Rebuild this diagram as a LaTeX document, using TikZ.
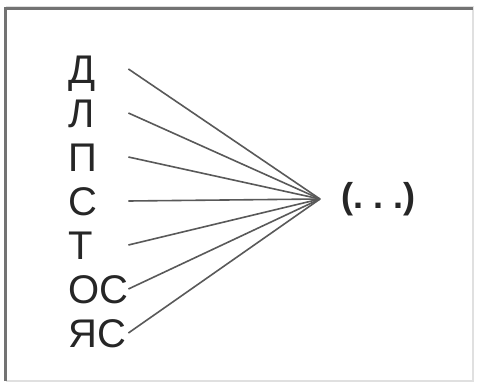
\documentclass[tikz,border=0pt]{standalone}
\usepackage{fontspec}
\setmainfont{Liberation Sans}
\begin{document}
\begin{tikzpicture}[x=1pt,y=-1pt,
  lbl/.style={anchor=west,inner sep=0pt,text width=60pt,align=left,
    text height=28.6pt,text depth=0pt,font=\fontsize{40}{40}\selectfont,text=black!85},
  ray/.style={draw=black!65,line width=1.6pt},
  frameA/.style={draw=black!55,line width=3pt},
  frameB/.style={draw=black!12,line width=1.2pt}]
\useasboundingbox (0,0) rectangle (477,383);
\fill[white] (0,0) rectangle (477,383);
\draw[frameB] (6,7) -- (473,7) -- (473,381) -- (6,381);
\draw[frameA] (5,381) -- (5,8) -- (473,8);
\coordinate (hub) at (320,199);
\node[lbl] (d) at (68,69) {Д};
\node[lbl] (l) at (68,113) {Л};
\node[lbl] (p) at (68,157) {П};
\node[lbl] (s) at (68,201) {С};
\node[lbl] (t) at (68,245) {Т};
\node[lbl] (os) at (68,289) {ОС};
\node[lbl] (ys) at (68,333) {ЯС};
\foreach \n in {d,l,p,s,t,os,ys} \draw[ray] (\n.east) -- (hub);
\node[anchor=west,inner sep=0pt,font=\bfseries\fontsize{36}{36}\selectfont,text=black!85] (res) at (341,199) {(.\ .\ .)};
\end{tikzpicture}
\end{document}
